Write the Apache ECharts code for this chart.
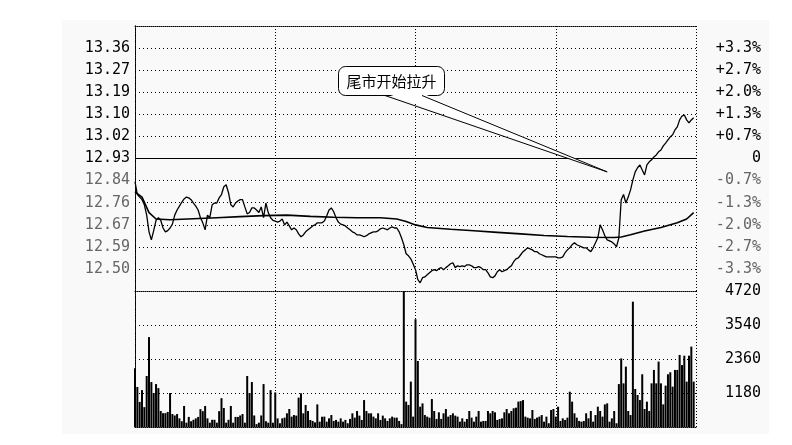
<!DOCTYPE html>
<html>
<head>
<meta charset="utf-8">
<script src="https://cdn.jsdelivr.net/npm/echarts@6/dist/echarts.min.js"></script>
<style>
html,body{margin:0;padding:0;background:#fff;}
#c{width:792px;height:445px;}
</style>
</head>
<body>
<div id="c"></div>
<script>
// ---- data ----
const prevClose = 12.93;
const priceStep = 0.0858;
const priceTickLabels = ['', '12.50', '12.59', '12.67', '12.76', '12.84', '12.93', '13.02', '13.10', '13.19', '13.27', '13.36', ''];
const pctTickLabels = ['', '-3.3%', '-2.7%', '-2.0%', '-1.3%', '-0.7%', '0', '+0.7%', '+1.3%', '+2.0%', '+2.7%', '+3.3%', ''];
const volTickLabels = ['', '1180', '2360', '3540', '4720'];
const volGridValues = [1180, 2360, 3540];
const volMax = 4720;
const volStep = 1180;

// price per minute (240 minutes)
const prices = [
12.84,12.79,12.78,12.77,12.75,12.71,12.645,12.614,12.65,12.69,
12.70,12.69,12.66,12.645,12.65,12.66,12.675,12.71,12.73,12.745,
12.76,12.773,12.78,12.777,12.77,12.757,12.745,12.73,12.70,12.68,
12.653,12.71,12.70,12.75,12.757,12.757,12.777,12.79,12.82,12.828,
12.797,12.75,12.742,12.757,12.765,12.77,12.77,12.742,12.715,12.72,
12.738,12.738,12.73,12.72,12.742,12.70,12.757,12.72,12.70,12.69,
12.687,12.683,12.687,12.695,12.672,12.683,12.668,12.653,12.66,12.653,
12.637,12.626,12.633,12.645,12.653,12.66,12.668,12.672,12.68,12.68,
12.68,12.687,12.707,12.73,12.738,12.723,12.70,12.683,12.675,12.672,
12.668,12.66,12.653,12.645,12.641,12.633,12.633,12.63,12.626,12.63,
12.637,12.641,12.645,12.645,12.649,12.657,12.66,12.657,12.653,12.66,
12.664,12.66,12.66,12.645,12.622,12.595,12.56,12.552,12.54,12.52,
12.498,12.459,12.447,12.467,12.47,12.478,12.486,12.494,12.498,12.494,
12.502,12.506,12.498,12.506,12.513,12.521,12.525,12.506,12.513,12.51,
12.513,12.51,12.517,12.517,12.513,12.506,12.506,12.51,12.506,12.498,
12.498,12.486,12.47,12.467,12.474,12.49,12.498,12.49,12.494,12.498,
12.506,12.513,12.529,12.54,12.544,12.556,12.568,12.575,12.583,12.579,
12.575,12.568,12.568,12.56,12.556,12.552,12.548,12.548,12.548,12.548,
12.548,12.544,12.544,12.548,12.564,12.575,12.583,12.595,12.603,12.595,
12.591,12.587,12.583,12.583,12.575,12.568,12.583,12.603,12.622,12.672,
12.653,12.63,12.614,12.61,12.606,12.598,12.587,12.622,12.77,12.79,
12.757,12.78,12.808,12.847,12.878,12.894,12.905,12.885,12.866,12.905,
12.917,12.925,12.936,12.944,12.956,12.963,12.979,12.99,13.002,13.014,
13.022,13.041,13.053,13.08,13.095,13.099,13.08,13.068,13.08,13.088
];

// average price line, read at these minutes
const avgMinutes = [0,3,6,9,15,25,35,45,55,65,75,85,95,105,112,116,120,125,135,145,155,165,175,185,195,205,208,212,218,225,232,236,239];
const avgValues  = [12.80,12.78,12.72,12.695,12.692,12.696,12.70,12.704,12.708,12.71,12.705,12.702,12.70,12.70,12.695,12.685,12.672,12.662,12.655,12.649,12.643,12.637,12.631,12.627,12.624,12.623,12.625,12.634,12.648,12.662,12.68,12.695,12.72];

// volume per minute (240 minutes)
const volumes = [
2040,1390,870,1280,690,1770,3120,1560,1180,1490,
1350,555,480,480,520,1180,450,400,450,300,
200,730,150,350,200,250,300,350,620,550,
730,300,150,250,250,150,550,1000,660,150,
250,730,150,350,350,400,450,150,1770,1180,
1560,400,100,150,400,1490,200,150,1280,150,
1200,300,130,300,325,475,625,360,415,395,
1020,1170,475,765,555,245,210,160,785,185,
360,360,185,300,415,210,245,185,300,185,
245,130,280,475,325,555,395,245,935,555,
475,475,360,300,475,245,395,300,210,300,
360,325,325,210,100,4720,880,765,1575,360,
3740,2290,705,820,415,360,325,970,555,280,
510,280,475,625,360,415,475,395,360,185,
300,185,280,555,325,185,360,555,185,210,
210,555,475,555,510,245,280,300,510,625,
475,555,650,670,880,900,935,360,325,300,
590,280,325,360,415,185,360,130,590,625,
360,705,210,300,245,325,1225,880,475,325,
210,185,210,475,300,555,185,415,705,555,
360,785,820,185,300,555,130,1490,2380,1515,
2095,555,415,4350,1320,1110,935,1830,625,880,
555,1515,1980,1515,2270,1515,785,1435,1830,1900,
1400,1980,1980,2500,2150,2475,1575,2475,2790,1575
];

const calloutText = '尾市开始拉升';
const calloutTip = [202, 12.878];

// ---- chart ----
const priceMin = +(prevClose - 6 * priceStep).toFixed(4);
const priceMax = +(prevClose + 6 * priceStep).toFixed(4);
const FONT = '"DejaVu Sans Mono", monospace';
const dotBorder = {color: '#000', width: 1, type: [1, 1]};
const dotGrid = {color: '#000', width: 1, type: [1, 3]};

function labelColor(idx) { return idx < 6 ? '#666' : '#000'; }

const chart = echarts.init(document.getElementById('c'), null, {renderer: 'canvas'});
const option = {
  animation: false,
  grid: [
    {left: 135, right: 96, top: 26, height: 265},
    {left: 135, right: 96, top: 291, height: 136}
  ],
  xAxis: [
    {gridIndex: 0, type: 'value', min: 0, max: 240, interval: 60, position: 'bottom',
     axisLine: {show: true, lineStyle: dotBorder}, axisTick: {show: false}, axisLabel: {show: false},
     splitLine: {show: true, lineStyle: {color: '#000', width: 1, type: [1, 2]}}},
    {gridIndex: 0, type: 'value', min: 0, max: 240, position: 'top',
     axisLine: {show: true, lineStyle: dotBorder}, axisTick: {show: false}, axisLabel: {show: false}, splitLine: {show: false}},
    {gridIndex: 1, type: 'value', min: 0, max: 240, interval: 60, position: 'bottom',
     axisLine: {show: true, lineStyle: dotBorder}, axisTick: {show: false}, axisLabel: {show: false},
     splitLine: {show: true, lineStyle: {color: '#000', width: 1, type: [1, 2]}}}
  ],
  yAxis: [
    {gridIndex: 0, type: 'value', min: priceMin, max: priceMax, interval: priceStep, position: 'left',
     axisLine: {show: true, lineStyle: dotBorder}, axisTick: {show: false},
     axisLabel: {margin: 5, fontFamily: FONT, fontSize: 15,
       formatter: (v, i) => priceTickLabels[i] || '',
       color: (v, i) => labelColor(Math.round((v - priceMin) / priceStep))},
     splitLine: {show: true, lineStyle: dotGrid}},
    {gridIndex: 0, type: 'value', min: priceMin, max: priceMax, interval: priceStep, position: 'right',
     axisLine: {show: true, lineStyle: dotBorder}, axisTick: {show: false},
     axisLabel: {margin: 65, align: 'right', fontFamily: FONT, fontSize: 15,
       formatter: (v, i) => pctTickLabels[i] || '',
       color: (v, i) => labelColor(Math.round((v - priceMin) / priceStep))},
     splitLine: {show: false}},
    {gridIndex: 1, type: 'value', min: 0, max: volMax, interval: volStep, position: 'right',
     axisLine: {show: true, lineStyle: dotBorder}, axisTick: {show: false},
     axisLabel: {margin: 65, align: 'right', fontFamily: FONT, fontSize: 15, color: '#000',
       formatter: (v, i) => volTickLabels[i] || ''},
     splitLine: {show: false}},
    {gridIndex: 1, type: 'value', min: 0, max: volMax, interval: volStep, position: 'left',
     axisLine: {show: true, lineStyle: dotBorder}, axisTick: {show: false}, axisLabel: {show: false}, splitLine: {show: false}}
  ],
  series: [
    {type: 'line', xAxisIndex: 0, yAxisIndex: 0, data: prices.map((p, i) => [i, p]),
     showSymbol: false, lineStyle: {color: '#000', width: 1.3}, z: 5,
     markLine: {silent: true, symbol: 'none', label: {show: false},
       lineStyle: {color: '#000', width: 1, type: 'solid'}, data: [{yAxis: prevClose}]}},
    {type: 'line', xAxisIndex: 0, yAxisIndex: 0, data: avgMinutes.map((m, i) => [m, avgValues[i]]),
     showSymbol: false, lineStyle: {color: '#000', width: 1.6}, z: 4},
    {type: 'bar', xAxisIndex: 2, yAxisIndex: 2, data: volumes.map((v, i) => [i, v]),
     barWidth: 2, itemStyle: {color: '#000'}, z: 3}
  ]
};
chart.setOption(option);

// volume grid lines: dots placed from the volume scale
const volLeft = Math.round(chart.convertToPixel({xAxisIndex: 2}, 0));
const volRight = Math.round(chart.convertToPixel({xAxisIndex: 2}, 240));
const volDots = [];
volGridValues.forEach(v => {
  const y = Math.round(chart.convertToPixel({yAxisIndex: 2}, v));
  for (let x = volLeft + 4; x < volRight; x += 4) {
    volDots.push({type: 'rect', z: 1, silent: true, shape: {x: x, y: y, width: 1, height: 1}, style: {fill: '#000'}});
  }
});

// background panel and callout
const tip = chart.convertToPixel({xAxisIndex: 0, yAxisIndex: 0}, calloutTip);
const boxX = 338, boxY = 66, boxW = 106, boxH = 29;
chart.setOption({
  graphic: [
    {type: 'rect', z: -10, silent: true, shape: {x: 62, y: 20, width: 707, height: 414},
     style: {fill: '#f8f9f8'}},
    ...volDots,
    {type: 'rect', z: 100, shape: {x: boxX + 0.5, y: boxY + 0.5, width: boxW, height: boxH, r: 7},
     style: {fill: '#fff', stroke: '#000', lineWidth: 1}},
    {type: 'polygon', z: 101, shape: {points: [[boxX + 47, boxY + boxH - 2], [boxX + 84, boxY + boxH - 2], tip]},
     style: {fill: '#fff', stroke: null}},
    {type: 'polyline', z: 102, shape: {points: [[boxX + 47, boxY + boxH + 0.5], tip]},
     style: {stroke: '#000', lineWidth: 1, fill: null}},
    {type: 'polyline', z: 102, shape: {points: [[boxX + 84, boxY + boxH + 0.5], tip]},
     style: {stroke: '#000', lineWidth: 1, fill: null}},
    {type: 'text', z: 103, style: {x: boxX + boxW / 2 + 0.5, y: boxY + boxH / 2 + 1, text: calloutText,
      align: 'center', verticalAlign: 'middle', font: '15px "Noto Sans CJK SC"', fill: '#000'}}
  ]
});
</script>
</body>
</html>
